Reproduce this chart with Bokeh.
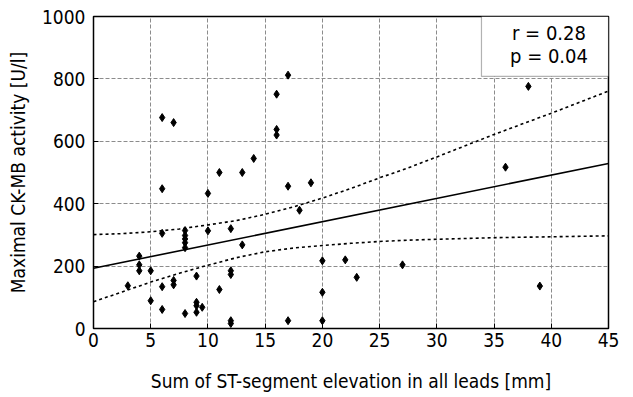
from bokeh.plotting import figure
from bokeh.models import Range1d, FixedTicker, BoxAnnotation, Label
from bokeh.embed import file_html
from bokeh.resources import INLINE

# ST-segment elevation sum [mm]
st_sum = [6, 7, 11, 13, 14, 17, 16, 16, 16, 38, 36,
          6, 10, 6, 8, 8, 8, 8, 8, 10, 12, 13, 4, 4, 4, 5, 3, 6, 7, 7, 9,
          12, 12, 11, 5, 9, 9, 9.5, 9, 8, 6, 12, 12,
          17, 19, 18, 20, 22, 27, 23, 20, 17, 20, 39]
# Maximal CK-MB activity [U/l]
ckmb = [676, 660, 500, 500, 545, 812, 751, 638, 620, 776, 517,
        448, 433, 305, 314, 298, 287, 275, 259, 313, 320, 268, 232, 204, 185, 185, 137, 134, 154, 140, 168,
        185, 173, 125, 89, 84, 73, 68, 52, 48, 61, 25, 16,
        456, 467, 379, 217, 220, 204, 164, 116, 25, 25, 136]

# regression line and 95% confidence band
fit_x = [0, 45]
fit_y = [193, 529]
band_x = [0, 2.5, 5, 7.5, 10, 12.5, 15, 17.5, 20, 22.5, 25, 27.5, 30, 35, 40, 45]
band_upper = [301, 304, 310, 319, 332, 346, 366, 390, 418, 449, 483, 515, 550, 622, 690, 761]
band_lower = [86, 117, 149, 177, 203, 227, 246, 258, 266, 273, 279, 283, 286, 291, 294, 297]

x_ticks = [0, 5, 10, 15, 20, 25, 30, 35, 40, 45]
y_ticks = [0, 200, 400, 600, 800, 1000]
stats_lines = ["r = 0.28", "p = 0.04"]

FONT = "'DejaVu Sans Condensed', Roboto, sans-serif"

p = figure(width=633, height=397, output_backend="svg", toolbar_location=None,
           x_range=Range1d(0, 45), y_range=Range1d(0, 1000))
p.min_border_left = 93
p.min_border_right = 25
p.min_border_top = 16
p.min_border_bottom = 69
p.outline_line_color = "black"
p.outline_line_width = 1.5

for ax in (p.xaxis[0], p.yaxis[0]):
    ax.major_label_text_font = FONT
    ax.major_label_text_font_size = "19px"
    ax.axis_label_text_font = FONT
    ax.axis_label_text_font_size = "19px"
    ax.axis_label_text_font_style = "normal"
    ax.major_tick_in = 5
    ax.major_tick_out = 0
    ax.minor_tick_line_color = None
    ax.axis_line_color = "black"
    ax.major_tick_line_color = "black"
    ax.major_label_text_color = "black"
    ax.axis_label_text_color = "black"

p.xaxis.ticker = FixedTicker(ticks=x_ticks)
p.yaxis.ticker = FixedTicker(ticks=y_ticks)
p.xaxis.axis_label = "Sum of ST-segment elevation in all leads [mm]"
p.yaxis.axis_label = "Maximal CK-MB activity [U/l]"
p.xaxis.major_label_standoff = 4
p.yaxis.major_label_standoff = 8
p.xaxis.axis_label_standoff = 20
p.yaxis.axis_label_standoff = 10

p.grid.grid_line_color = "#8c8c8c"
p.grid.grid_line_dash = "4 2"
p.grid.grid_line_width = 1
p.xgrid.ticker = FixedTicker(ticks=x_ticks)
p.ygrid.ticker = FixedTicker(ticks=y_ticks)

p.line(fit_x, fit_y, line_color="black", line_width=1.6)
p.line(band_x, band_upper, line_color="black", line_width=1.6, line_dash="3 3")
p.line(band_x, band_lower, line_color="black", line_width=1.6, line_dash="3 3")
p.scatter(st_sum, ckmb, marker="diamond", size=8, fill_color="black", line_color="black")

box = BoxAnnotation(left=33.9, right=45, bottom=808, top=1000,
                    fill_color="white", fill_alpha=1.0, line_color="black", line_width=1.2,
                    level="overlay")
p.add_layout(box)
for i, txt in enumerate(stats_lines):
    p.add_layout(Label(x=39.8, y=948 - i * 76, text=txt, text_align="center", text_baseline="middle",
                       text_font=FONT, text_font_size="20px", text_color="black", level="overlay"))

open("out.html", "w").write(file_html(p, INLINE))
